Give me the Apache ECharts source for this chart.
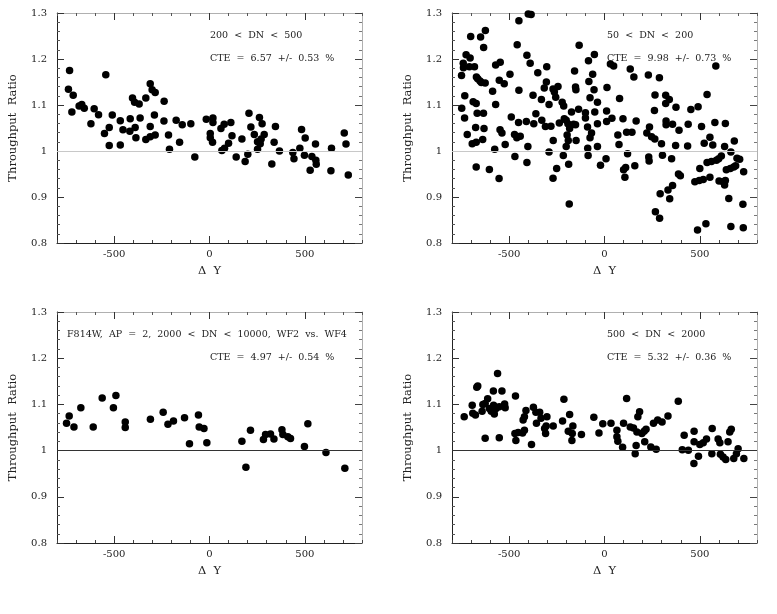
<!DOCTYPE html>
<html><head><meta charset="utf-8">
<script src="https://cdn.jsdelivr.net/npm/echarts@6/dist/echarts.min.js"></script>
<style>html,body{margin:0;padding:0;background:#fff}#c{width:777px;height:614px}</style>
</head><body><div id="c"></div>
<script>
// ---- tick labels / texts ----
const xTickLabels = [-500, 0, 500];
const yTitle = 'Throughput  Ratio';
const xTitle = 'Δ  Y';
const panelLabels = ['200  <  DN  <  500', '50  <  DN  <  200', 'F814W,  AP  =  2,  2000  <  DN  <  10000,  WF2  vs.  WF4', '500  <  DN  <  2000'];
const cteLabels = ['CTE  =  6.57  +/-  0.53  %', 'CTE  =  9.98  +/-  0.73  %', 'CTE  =  4.97  +/-  0.54  %', 'CTE  =  5.32  +/-  0.36  %'];

// ---- panel 1: 200 < DN < 500 ----
const dy1 = [-734,-544,-740,-715,-722,-684,-670,-657,-622,-605,-582,-551,-526,-526,-510,-468,-468,-454,-416,-418,-404,-393,-369,-390,-386,-364,-334,-311,-301,-285,-334,-311,-311,-285,-289,-238,-239,-215,-210,-175,-157,-143,-98,-77,-17,4,16,
  18,18,4,60,77,112,118,65,79,100,140,170,207,217,201,187,235,262,276,252,252,266,271,287,346,339,367,327,437,443,474,483,502,498,528,537,556,558,560,637,640,707,716,728];
const ratio1 = [1.175,1.166,1.134,1.121,1.085,1.098,1.101,1.093,1.059,1.092,1.079,1.038,1.051,1.012,1.078,1.013,1.066,1.046,1.070,1.043,1.115,1.106,1.102,1.051,1.029,1.072,1.115,1.146,1.133,1.127,1.025,1.053,1.031,1.035,1.078,1.108,1.065,1.035,1.004,1.067,1.019,1.057,1.059,0.987,1.069,1.038,1.019,
  1.072,1.062,1.029,1.049,1.058,1.062,1.033,1.001,1.006,1.017,0.987,1.026,1.082,1.052,0.993,0.977,1.036,1.073,1.059,1.020,1.004,1.016,1.026,1.036,1.053,1.019,1.000,0.972,0.997,0.983,1.006,1.047,1.028,0.991,0.958,0.988,1.015,0.980,0.971,0.957,1.006,1.039,1.015,0.948];

// ---- panel 2: 50 < DN < 200 ----
const dy2 = [-400,-385,-449,-625,-702,-650,-634,-458,-726,-705,-741,-740,-709,-682,-750,-672,-665,-653,-646,-626,-571,-547,-552,-526,-496,-407,-390,-587,-449,-733,-749,-734,-689,-673,-668,-635,-571,-720,-676,-632,-694,-673,-639,-673,-604,-576,-553,-548,-538,-521,-489,-472,-460,-442,-470,-451,-410,-402,-407,-375,-371,-360,-350,-331,-329,-316,-305,-303,-310,-291,-281,-291,-270,-263,-256,-244,-269,-270,-251,-237,-222,-214,-211,-216,-201,-192,-183,-196,-201,-190,-188,-185,-173,-162,-152,-157,-152,-150,-136,-133,-100,-100,-149,-89,-88,-86,-84,-82,-76,-76,-68,-62,-55,-53,-51,-37,-37,-37,-21,8,13,11,11,
  31,48,135,154,230,288,584,79,265,321,340,321,375,262,453,491,538,39,97,166,70,116,144,236,222,247,264,299,323,323,357,391,439,509,579,634,76,373,436,523,553,568,630,681,121,111,100,159,107,232,234,304,352,388,398,357,333,292,342,267,289,500,474,497,518,553,538,561,587,599,613,601,622,634,630,639,660,678,688,695,709,663,730,652,726,488,532,663,728];
const ratio2 = [1.298,1.297,1.283,1.262,1.249,1.248,1.225,1.231,1.209,1.202,1.191,1.181,1.183,1.183,1.164,1.161,1.157,1.152,1.149,1.148,1.187,1.193,1.154,1.146,1.167,1.208,1.191,1.130,1.132,1.120,1.093,1.072,1.107,1.103,1.082,1.082,1.101,1.036,1.051,1.049,1.016,1.019,1.025,0.965,0.960,1.004,0.940,1.046,1.039,1.014,1.074,1.036,1.029,1.032,0.988,1.062,1.064,1.010,0.975,1.121,1.059,1.081,1.170,1.112,1.067,1.137,1.150,1.183,1.053,1.101,1.054,0.998,1.135,1.128,1.117,1.140,1.023,0.941,0.962,1.061,1.106,1.098,1.070,0.990,1.067,1.059,1.049,1.035,1.010,1.023,0.971,0.885,1.085,1.058,1.057,1.174,1.139,1.133,1.091,1.230,1.083,1.072,1.023,1.052,1.006,0.990,1.196,1.151,1.116,1.029,1.039,1.167,1.133,1.210,1.085,1.059,1.106,1.010,0.969,0.983,1.138,1.087,1.064,
  1.189,1.185,1.178,1.161,1.165,1.159,1.185,1.114,1.122,1.121,1.112,1.103,1.095,1.088,1.090,1.096,1.123,1.071,1.070,1.065,1.035,1.041,1.041,1.052,1.039,1.031,1.026,1.016,1.065,1.057,1.058,1.045,1.058,1.053,1.062,1.060,1.014,1.012,1.011,1.017,1.030,1.013,1.010,1.022,0.994,0.964,0.959,0.968,0.943,0.987,0.978,0.991,0.983,0.950,0.946,0.925,0.915,0.907,0.896,0.868,0.854,0.962,0.933,0.936,0.938,0.943,0.975,0.977,0.980,0.983,0.989,0.935,0.933,0.936,0.926,0.959,0.962,0.965,0.968,0.984,0.982,0.998,0.955,0.897,0.884,0.828,0.842,0.836,0.833];

// ---- panel 3: F814W, AP = 2, 2000 < DN < 10000 ----
const dy3 = [-750,-736,-711,-675,-610,-563,-504,-491,-442,-442,-310,-243,-218,-189,-131,-105,-58,-54,-29,-14,170,191,215,283,294,320,338,380,385,411,425,498,516,611,710];
const ratio3 = [1.059,1.075,1.051,1.093,1.051,1.114,1.093,1.119,1.062,1.050,1.068,1.083,1.057,1.064,1.071,1.015,1.077,1.051,1.048,1.017,1.020,0.964,1.044,1.024,1.035,1.036,1.025,1.045,1.035,1.030,1.026,1.009,1.058,0.996,0.962];

// ---- panel 4: 500 < DN < 2000 ----
const dy4 = [-736,-694,-691,-677,-670,-665,-642,-638,-626,-613,-626,-604,-594,-582,-578,-583,-569,-561,-552,-538,-552,-524,-521,-467,-470,-465,-453,-430,-420,-427,-420,-412,-383,-373,-360,-357,-340,-333,-314,-309,-306,-302,-269,-220,-213,-183,-190,-171,-166,-169,-121,-56,-29,-9,
  34,65,65,70,95,100,116,135,152,166,161,170,175,184,196,208,211,218,243,271,257,279,302,333,387,408,440,418,470,470,469,493,500,518,535,563,565,596,605,608,622,636,648,657,665,678,692,701,731];
const ratio4 = [1.073,1.098,1.081,1.077,1.137,1.140,1.085,1.100,1.102,1.112,1.027,1.091,1.085,1.098,1.079,1.129,1.091,1.167,1.095,1.129,1.028,1.101,1.093,1.118,1.037,1.022,1.039,1.038,1.044,1.066,1.073,1.087,1.013,1.094,1.083,1.059,1.083,1.070,1.048,1.037,1.053,1.073,1.053,1.064,1.111,1.078,1.042,1.022,1.053,1.037,1.035,1.072,1.038,1.058,
  1.059,1.044,1.030,1.020,1.007,1.059,1.113,1.051,1.049,1.011,0.993,1.040,1.073,1.084,1.037,1.042,1.019,1.046,1.008,1.003,1.059,1.066,1.062,1.075,1.107,1.002,1.001,1.033,1.042,1.019,0.972,0.988,1.013,1.017,1.025,0.993,1.048,1.025,1.017,0.992,0.986,0.981,1.019,1.040,1.046,0.983,0.993,1.004,0.983];

const panels = [[dy1, ratio1], [dy2, ratio2], [dy3, ratio3], [dy4, ratio4]];

// ---- layout ----
const grids = [
  {left: 57, top: 13, width: 305, height: 230},
  {left: 452, top: 13, width: 305, height: 230},
  {left: 57, top: 312, width: 305, height: 231},
  {left: 452, top: 312, width: 305, height: 231}
];
const unityColor = ['#c8c8c8', '#c8c8c8', '#333', '#333'];
const textPos = [[210, 36, 210, 59], [607, 36, 607, 59], [67, 335, 210, 358], [607, 335, 607, 358]];

const tickFont = {fontFamily: 'DejaVu Serif', fontSize: 10, color: '#222'};
const dark = '#222', light = '#b0b0b0';

const xAxis = [], yAxis = [], series = [], graphic = [];
grids.forEach((g, i) => {
  const xBase = {gridIndex: i, type: 'value', min: -800, max: 800, splitLine: {show: false}};
  const yBase = {gridIndex: i, type: 'value', min: 0.8, max: 1.3, interval: 0.1, splitLine: {show: false}};
  xAxis.push(Object.assign({}, xBase, {position: 'bottom', interval: 100,
    axisLine: {show: true, onZero: false, lineStyle: {color: dark, width: 1}},
    axisTick: {show: true, inside: true, length: 3, lineStyle: {color: '#444'}},
    axisLabel: {show: false}}));
  xAxis.push(Object.assign({}, xBase, {position: 'bottom', interval: 100,
    axisLine: {show: false, onZero: false},
    axisTick: {show: true, inside: true, length: 7, customValues: xTickLabels, lineStyle: {color: '#333'}},
    axisLabel: Object.assign({show: true, customValues: xTickLabels, margin: 6}, tickFont),
    name: xTitle, nameLocation: 'middle', nameGap: 22,
    nameTextStyle: {fontFamily: 'DejaVu Serif', fontSize: 11.5, color: '#222'}}));
  xAxis.push(Object.assign({}, xBase, {position: 'top', interval: 100,
    axisLine: {show: true, onZero: false, lineStyle: {color: light, width: 1}},
    axisTick: {show: true, inside: true, length: 3, lineStyle: {color: '#555'}},
    axisLabel: {show: false}}));
  xAxis.push(Object.assign({}, xBase, {position: 'top', interval: 100,
    axisLine: {show: false, onZero: false},
    axisTick: {show: true, inside: true, length: 7, customValues: xTickLabels, lineStyle: {color: '#333'}},
    axisLabel: {show: false}}));
  yAxis.push(Object.assign({}, yBase, {position: 'left',
    axisLine: {show: true, onZero: false, lineStyle: {color: dark, width: 1}},
    axisTick: {show: true, inside: true, length: 7, lineStyle: {color: '#333'}},
    minorTick: {show: true, splitNumber: 5, length: 3, lineStyle: {color: '#555'}},
    axisLabel: Object.assign({show: true, margin: 10}, tickFont),
    name: yTitle, nameLocation: 'middle', nameGap: 38, nameRotate: 90,
    nameTextStyle: {fontFamily: 'DejaVu Serif', fontSize: 11.5, color: '#222'}}));
  yAxis.push(Object.assign({}, yBase, {position: 'right',
    axisLine: {show: true, onZero: false, lineStyle: {color: light, width: 1}},
    axisTick: {show: true, inside: true, length: 7, lineStyle: {color: '#444'}},
    minorTick: {show: true, splitNumber: 5, length: 3, lineStyle: {color: '#777'}},
    axisLabel: {show: false}}));

  const [xs, ys] = panels[i];
  series.push({
    type: 'scatter', xAxisIndex: i * 4, yAxisIndex: i * 2,
    data: xs.map((v, k) => [v, ys[k]]),
    symbol: 'circle', symbolSize: 7.5,
    itemStyle: {color: '#000', opacity: 1},
    silent: true, animation: false,
    markLine: {silent: true, symbol: 'none', animation: false,
      label: {show: false},
      lineStyle: {color: unityColor[i], width: 1, type: 'solid'},
      data: [{yAxis: 1}]},
    z: 3
  });

  const tp = textPos[i];
  graphic.push({type: 'text', x: tp[0], y: tp[1], silent: true,
    style: {text: panelLabels[i], font: '9.5px "DejaVu Serif"', fill: '#222', verticalAlign: 'middle'}});
  graphic.push({type: 'text', x: tp[2], y: tp[3], silent: true,
    style: {text: cteLabels[i], font: '9.5px "DejaVu Serif"', fill: '#222', verticalAlign: 'middle'}});
});

const chart = echarts.init(document.getElementById('c'), null, {renderer: 'canvas'});
chart.setOption({
  backgroundColor: '#fff',
  animation: false,
  grid: grids,
  xAxis, yAxis, series, graphic
});
</script></body></html>
